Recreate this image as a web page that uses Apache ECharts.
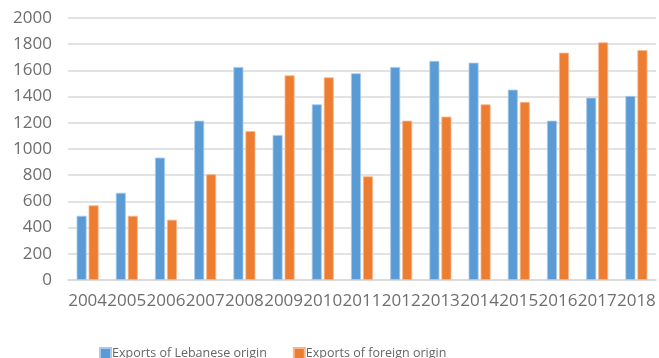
<!DOCTYPE html>
<html><head><meta charset="utf-8">
<script src="https://cdn.jsdelivr.net/npm/echarts@6/dist/echarts.min.js"></script>
<style>html,body{margin:0;padding:0;background:#fff}#c{width:659px;height:358px}</style>
</head><body><div id="c"></div>
<script>
const years = ['2004','2005','2006','2007','2008','2009','2010','2011','2012','2013','2014','2015','2016','2017','2018'];
const lebanese = [490, 666, 934, 1216, 1626, 1107, 1341, 1578, 1626, 1672, 1659, 1453, 1216, 1392, 1405];
const foreign = [570, 490, 460, 807, 1137, 1562, 1547, 791, 1216, 1247, 1341, 1359, 1735, 1814, 1755];
const seriesNames = ['Exports of Lebanese origin', 'Exports of foreign origin'];

const chart = echarts.init(document.getElementById('c'), null, {renderer: 'canvas'});
const font = 'Open Sans';
chart.setOption({
  animation: false,
  grid: {left: 68, right: 3, top: 18, bottom: 78, containLabel: false},
  legend: {
    left: 94, top: 342, itemWidth: 11, itemHeight: 11, itemGap: 26,
    icon: 'rect',
    textStyle: {fontFamily: font, fontSize: 12.5, color: '#666666', padding: [0,0,0,-4]},
    data: seriesNames
  },
  xAxis: {
    type: 'category', data: years,
    axisLine: {lineStyle: {color: '#d9d9d9', width: 1.5}},
    axisTick: {show: false},
    axisLabel: {fontFamily: font, fontSize: 17, color: '#6e6e6e', margin: 13, interval: 0}
  },
  yAxis: {
    type: 'value', min: 0, max: 2000, interval: 200,
    axisLine: {show: false}, axisTick: {show: false},
    splitLine: {lineStyle: {color: '#d9d9d9', width: 1.5}},
    axisLabel: {fontFamily: font, fontSize: 17, color: '#6e6e6e', margin: 16, formatter: v => String(v)}
  },
  series: [
    {name: seriesNames[0], type: 'bar', data: lebanese, barWidth: 10, barGap: '20%',
     itemStyle: {color: '#5B9BD5', borderColor: '#a9cbeb', borderWidth: 0.8}},
    {name: seriesNames[1], type: 'bar', data: foreign, barWidth: 10,
     itemStyle: {color: '#ED7D31', borderColor: '#f6b98f', borderWidth: 0.8}}
  ]
});
</script></body></html>
